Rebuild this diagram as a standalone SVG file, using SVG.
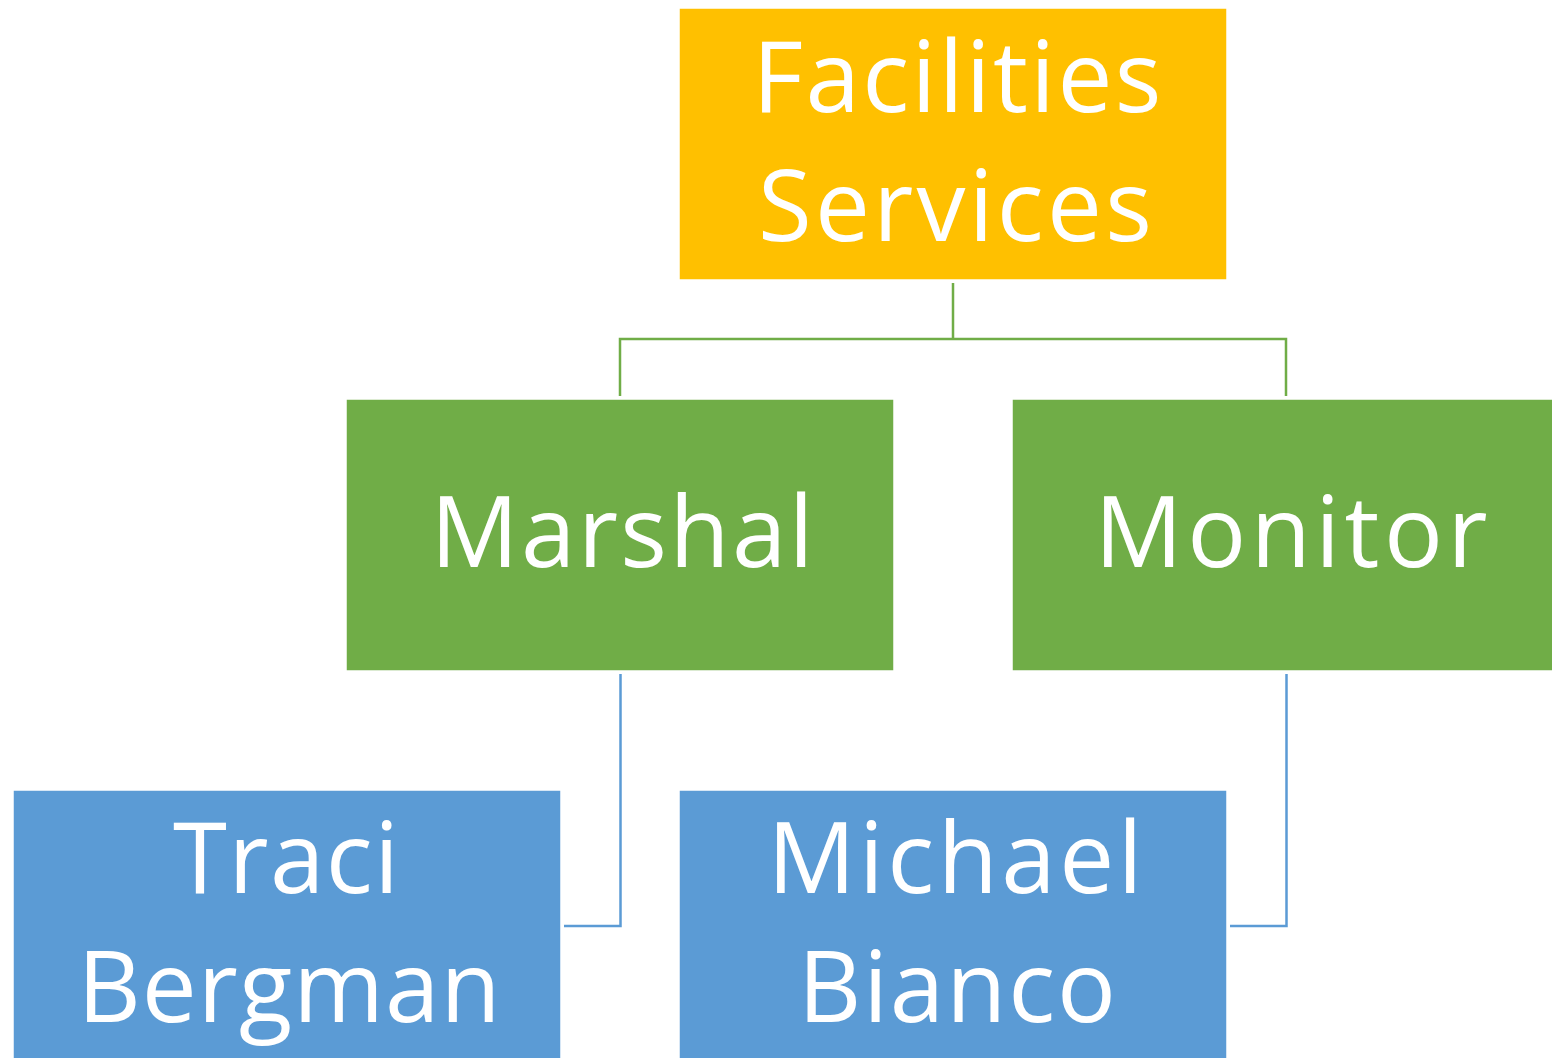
<svg xmlns="http://www.w3.org/2000/svg" width="1552" height="1058" viewBox="0 0 1552 1058">
<style>
.box{stroke:#ffffff;stroke-width:1.5}
.gold{fill:#FFC000}
.green{fill:#70AD47}
.blue{fill:#5B9BD5}
.lbl{font-family:"Open Sans","Liberation Sans",sans-serif;font-size:98px;fill:#ffffff;text-anchor:middle}
.cg{fill:none;stroke:#70AD47;stroke-width:2.5}
.cb{fill:none;stroke:#5B9BD5;stroke-width:2.5}
</style>
<rect width="1552" height="1058" fill="#ffffff"/>
<g id="connectors">
<path class="cg" d="M953,283 V339 M620,396 V339 H1286 V396"/>
<path class="cb" d="M620.5,674 V926 H564"/>
<path class="cb" d="M1286.5,674 V926 H1230"/>
</g>
<g id="facilities">
<rect class="box gold" x="679" y="8" width="548" height="272"/>
<text class="lbl" x="957" y="112" textLength="409">Facilities</text>
<text class="lbl" x="955" y="241" textLength="394">Services</text>
</g>
<g id="marshal">
<rect class="box green" x="346" y="399" width="548" height="272"/>
<text class="lbl" x="622" y="567" textLength="383">Marshal</text>
</g>
<g id="monitor">
<rect class="box green" x="1012" y="399" width="548" height="272"/>
<text class="lbl" x="1291" y="567" textLength="393">Monitor</text>
</g>
<g id="traci">
<rect class="box blue" x="13" y="790" width="548" height="272"/>
<text class="lbl" x="286" y="893" textLength="226">Traci</text>
<text class="lbl" x="289" y="1022" textLength="423">Bergman</text>
</g>
<g id="michael">
<rect class="box blue" x="679" y="790" width="548" height="272"/>
<text class="lbl" x="955" y="893" textLength="375">Michael</text>
<text class="lbl" x="957" y="1022" textLength="318">Bianco</text>
</g>
</svg>
